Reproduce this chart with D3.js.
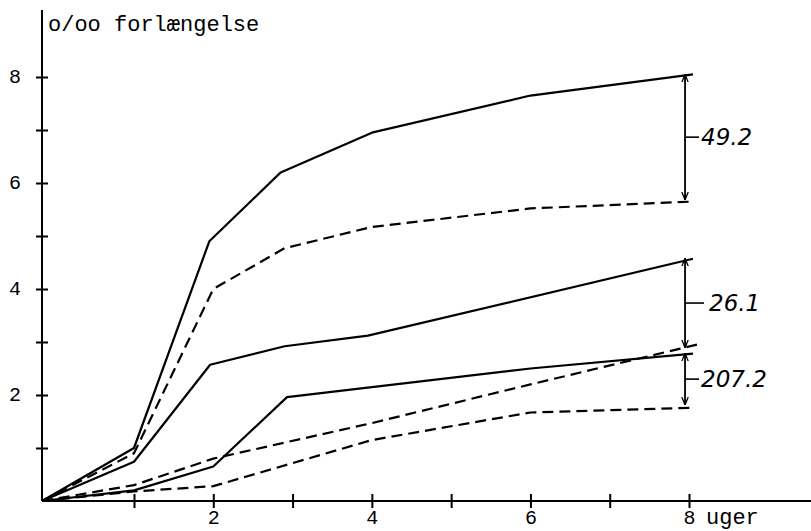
<!DOCTYPE html>
<html>
<head>
<meta charset="utf-8">
<script src="https://cdn.jsdelivr.net/npm/d3@7"></script>
<style>
  body { margin: 0; background: #fff; }
  svg { display: block; }
</style>
</head>
<body>
<svg id="chart" width="811" height="531"></svg>
<script>
// weeks (uger) and elongation (o/oo forlængelse)
const weeksA = [0, 1, 1.95, 2.85, 4, 6, 8.05];
const solidA = [0, 1.0, 4.9, 6.2, 6.95, 7.65, 8.05];

const weeksA2 = [0, 1, 2, 2.9, 4, 6, 8.05];
const dashedA = [0, 0.9, 4.0, 4.77, 5.17, 5.52, 5.65];

const weeksB = [0, 1, 1.96, 2.9, 3.95, 8.05];
const solidB = [0, 0.74, 2.57, 2.92, 3.12, 4.57];

const weeksC = [0, 1, 2, 2.93, 4, 6, 8.05];
const solidC = [0, 0.2, 0.65, 1.96, 2.15, 2.5, 2.78];

const weeksB2 = [0, 1, 2, 4, 6, 8.1];
const dashedB = [0, 0.3, 0.8, 1.47, 2.2, 2.95];

const weeksC2 = [0, 1, 2, 4, 6, 8.05];
const dashedC = [0, 0.18, 0.28, 1.15, 1.67, 1.76];

// brackets on the right
const bracketWeek = [7.95, 7.95, 7.95];
const bracketTop = [8.05, 4.58, 2.79];
const bracketBottom = [5.68, 2.89, 1.81];
const bracketLabels = ["49.2", "26.1", "207.2"];

const xTicks = [1, 2, 3, 4, 5, 6, 7, 8];
const yTicks = [1, 2, 3, 4, 5, 6, 7, 8];

const svg = d3.select("#chart");

// hand drawn axis is a bit uneven before week 1
const x = d3.scaleLinear().domain([0, 1, 8]).range([42, 134, 689]);
const y = d3.scaleLinear().domain([0, 8]).range([501, 77]);

const mono = "'Liberation Mono', 'DejaVu Sans Mono', monospace";

// y axis
const yAxis = svg.append("g")
  .attr("transform", "translate(" + x(0) + ",0)")
  .call(d3.axisLeft(y).tickValues(yTicks).tickSize(6)
    .tickFormat(d => d % 2 === 0 ? d : ""));
yAxis.select(".domain").remove();
yAxis.selectAll(".tick line")
  .attr("x1", -6).attr("x2", 6)
  .attr("stroke", "#000").attr("stroke-width", 2);
yAxis.selectAll(".tick text")
  .attr("x", -27).attr("dy", "0.25em")
  .attr("text-anchor", "middle")
  .attr("font-family", mono).attr("font-size", 20).attr("fill", "#000");

svg.append("line")
  .attr("x1", x(0)).attr("x2", x(0))
  .attr("y1", 10).attr("y2", y(0))
  .attr("stroke", "#000").attr("stroke-width", 2);

// x axis
const xAxis = svg.append("g")
  .attr("transform", "translate(0," + y(0) + ")")
  .call(d3.axisBottom(x).tickValues(xTicks).tickSize(7)
    .tickFormat(d => d % 2 === 0 ? d : ""));
xAxis.select(".domain").remove();
xAxis.selectAll(".tick line")
  .attr("y1", -7).attr("y2", 7)
  .attr("stroke", "#000").attr("stroke-width", 2);
xAxis.selectAll(".tick text")
  .attr("y", 8).attr("dy", "0.75em")
  .attr("font-family", mono).attr("font-size", 20).attr("fill", "#000");

svg.append("line")
  .attr("x1", x(0)).attr("x2", 811)
  .attr("y1", y(0)).attr("y2", y(0))
  .attr("stroke", "#000").attr("stroke-width", 2);

svg.append("text")
  .attr("x", x(8) + 17).attr("y", 524)
  .attr("font-family", mono).attr("font-size", 22)
  .text("uger");

svg.append("text")
  .attr("x", 48).attr("y", 31)
  .attr("font-family", mono).attr("font-size", 22)
  .text("o/oo forlængelse");

// curves
const line = d3.line().x(d => x(d[0])).y(d => y(d[1]));

const series = [
  { w: weeksA, v: solidA, dash: null },
  { w: weeksA2, v: dashedA, dash: "11,6" },
  { w: weeksB, v: solidB, dash: null },
  { w: weeksC, v: solidC, dash: null },
  { w: weeksB2, v: dashedB, dash: "11,6" },
  { w: weeksC2, v: dashedC, dash: "11,6" }
];

svg.selectAll("path.curve")
  .data(series)
  .enter()
  .append("path")
  .attr("class", "curve")
  .attr("d", s => line(s.w.map((w, i) => [w, s.v[i]])))
  .attr("fill", "none")
  .attr("stroke", "#000")
  .attr("stroke-width", 2.2)
  .attr("stroke-linejoin", "round")
  .attr("stroke-dasharray", s => s.dash);

// arrow heads
const defs = svg.append("defs");
defs.append("marker")
  .attr("id", "head")
  .attr("viewBox", "0 0 10 10")
  .attr("refX", 10).attr("refY", 5)
  .attr("markerWidth", 8).attr("markerHeight", 8)
  .attr("markerUnits", "userSpaceOnUse")
  .attr("orient", "auto-start-reverse")
  .append("path")
  .attr("d", "M0,1 L10,5 L0,9")
  .attr("fill", "none")
  .attr("stroke", "#000")
  .attr("stroke-width", 1.6);

const brackets = bracketLabels.map((label, i) => ({
  w: bracketWeek[i], top: bracketTop[i], bottom: bracketBottom[i], label: label
}));

const b = svg.selectAll("g.bracket")
  .data(brackets)
  .enter()
  .append("g")
  .attr("class", "bracket");

b.append("line")
  .attr("x1", d => x(d.w)).attr("x2", d => x(d.w))
  .attr("y1", d => y(d.top)).attr("y2", d => y(d.bottom))
  .attr("stroke", "#000").attr("stroke-width", 1.8)
  .attr("marker-start", "url(#head)")
  .attr("marker-end", "url(#head)");

b.append("line")
  .attr("x1", d => x(d.w)).attr("x2", (d, i) => x(d.w) + (i === 1 ? 19 : 14))
  .attr("y1", d => (y(d.top) + y(d.bottom)) / 2)
  .attr("y2", d => (y(d.top) + y(d.bottom)) / 2)
  .attr("stroke", "#000").attr("stroke-width", 1.6);

b.append("text")
  .attr("x", (d, i) => x(d.w) + (i === 1 ? 24 : 16))
  .attr("y", d => (y(d.top) + y(d.bottom)) / 2)
  .attr("dy", "0.36em")
  .attr("font-family", "'DejaVu Sans', sans-serif")
  .attr("font-style", "italic")
  .attr("font-size", 23)
  .text(d => d.label);
</script>
</body>
</html>
